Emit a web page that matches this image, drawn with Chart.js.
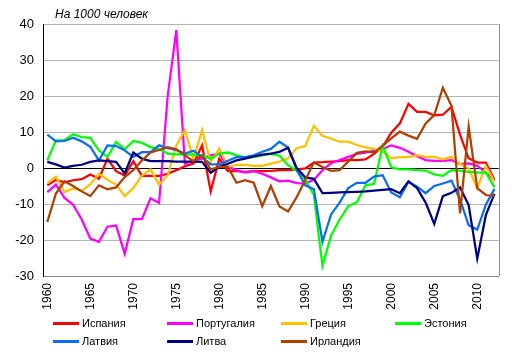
<!DOCTYPE html>
<html>
<head>
<meta charset="utf-8">
<script src="https://cdn.jsdelivr.net/npm/chart.js@4"></script>
<style>
  body { margin: 0; background: #fff; }
  #wrap { position: relative; width: 516px; height: 358px; font-family: "Liberation Sans", Arial, sans-serif; }
  #title { position: absolute; left: 55px; top: 7px; font-size: 12px; font-style: italic; color: #000; }
  .leg { position: absolute; font-size: 11px; color: #000; height: 14px; line-height: 14px; }
  .leg span.ln { position: absolute; left: 0; top: 6px; width: 26px; height: 3px; }
  .leg span.tx { position: absolute; left: 29px; top: 0; white-space: nowrap; }
</style>
</head>
<body>
<div id="wrap">
  <canvas id="mycanvas" width="516" height="358"></canvas>
  <div id="title">На 1000 человек</div>
  <div id="legend"></div>
</div>
<script>
var years = [];
for (var y = 1960; y <= 2012; y++) years.push(y);

var seriesNames = ['Испания', 'Португалия', 'Греция', 'Эстония', 'Латвия', 'Литва', 'Ирландия'];
var seriesColors = ['#FF0000', '#FF00FF', '#FFC000', '#00FF00', '#0A6EF0', '#000080', '#B04000'];

var spain = [-4.8, -3.3, -4.0, -3.4, -3.1, -1.8, -3.0, 2.6, -0.9, -2.1,
  1.9, -2.2, -2.2, -2.2, -1.6, -0.6, 0.5, 1.2, 6.3, -6.5,
  2.6, -0.9, -0.9, -1.1, -0.9, -0.9, -0.8, -0.6, -0.6, -0.4,
  -0.1, 1.5, 1.6, 1.8, 1.9, 2.2, 2.2, 2.4, 3.9, 5.9,
  9.8, 12.4, 17.8, 15.6, 15.6, 14.6, 14.8, 17.0, 9.2, 2.7,
  1.5, 1.5, -3.3];
var portugal = [-6.7, -4.6, -8.3, -10.2, -14.3, -19.6, -20.5, -16.3, -16.0, -23.8,
  -14.2, -14.2, -8.4, -9.7, 20.0, 38.3, 1.2, 2.1, 2.6, 3.5,
  4.0, 0.3, -0.6, -1.3, -0.9, -1.6, -2.6, -3.7, -3.5, -4.2,
  -4.3, -3.3, -0.6, 1.3, 2.2, 3.1, 3.9, 4.3, 4.8, 5.3,
  6.3, 5.6, 4.5, 3.3, 2.2, 2.0, 2.0, 2.2, 1.1, 1.3,
  0.6, -1.3, -3.3];
var greece = [-4.3, -2.4, -6.7, -5.7, -6.4, -4.5, -1.6, -3.3, -4.6, -7.8,
  -5.6, -2.1, -0.4, -4.6, -2.0, 6.3, 10.5, 2.6, 10.5, 1.7,
  5.4, 0.3, 0.9, 0.9, 0.6, 0.6, 1.2, 1.8, 2.7, 5.5,
  6.1, 11.7, 8.9, 8.2, 7.3, 7.3, 6.4, 5.7, 5.3, 4.5,
  2.7, 3.0, 3.0, 3.6, 3.1, 3.1, 2.4, 3.1, 1.1, -0.1,
  -5.6, 0.6, -3.8];
var estonia = [2.1, 7.7, 7.7, 9.4, 8.6, 8.4, 4.9, 3.1, 7.2, 5.2,
  7.5, 7.0, 5.8, 5.2, 4.0, 3.8, 3.8, 3.7, 3.5, 2.6,
  4.0, 4.3, 3.5, 2.9, 3.0, 3.5, 3.9, 3.4, 0.8, -0.8,
  -3.2, -7.5, -27.2, -18.8, -14.3, -10.6, -9.5, -4.8, -4.4, 6.1,
  0.2, -0.4, -0.4, -0.6, -0.7, -1.8, -2.2, -0.6, -0.7, -1.1,
  -1.3, -1.3, -5.4];
var latvia = [9.3, 7.4, 7.5, 8.4, 7.4, 5.9, 2.1, 6.3, 6.1, 4.9,
  3.1, 4.4, 4.4, 6.3, 5.5, 5.0, 4.0, 4.8, 3.0, 1.0,
  1.0, 2.0, 3.0, 3.0, 3.5, 4.5, 5.3, 7.3, 5.7, -0.5,
  -4.8, -5.9, -20.5, -12.9, -9.6, -5.6, -4.1, -4.1, -2.4, -2.0,
  -6.8, -8.1, -3.8, -5.2, -7.0, -5.0, -4.3, -3.5, -8.8, -15.9,
  -17.1, -10.2, -5.8];
var lithuania = [1.7, 1.0, 0.1, 0.6, 0.9, 1.7, 2.1, 1.9, 1.7, -1.5,
  4.3, 2.6, 1.9, 1.9, 1.9, 1.8, 1.8, 1.8, 1.7, -1.3,
  0.3, 1.2, 2.1, 2.6, 3.2, 3.7, 4.0, 4.5, 5.6, 0.0,
  -2.6, -3.0, -7.0, -6.9, -6.8, -6.7, -6.6, -6.5, -6.3, -6.1,
  -5.9, -7.0, -3.7, -5.6, -9.6, -15.5, -7.8, -6.9, -5.4, -10.3,
  -25.2, -13.1, -7.2];
var ireland = [-15.0, -7.1, -3.7, -5.0, -6.5, -7.8, -4.8, -5.9, -5.4, -2.5,
  -0.6, 2.1, 4.3, 5.0, 5.8, 5.2, 3.5, 1.9, 3.5, -0.4,
  0.3, 0.3, -4.1, -3.4, -4.1, -10.6, -5.0, -10.7, -12.1, -8.1,
  -3.3, 1.5, 0.3, -0.8, -0.6, 1.8, 4.2, 4.6, 4.3, 6.2,
  8.2, 10.1, 9.0, 8.1, 12.4, 14.7, 22.3, 17.3, -12.6, 11.5,
  -5.6, -7.5, -7.8];

var seriesData = [spain, portugal, greece, estonia, latvia, lithuania, ireland];

var datasets = [];
for (var i = 0; i < seriesNames.length; i++) {
  datasets.push({
    label: seriesNames[i],
    data: seriesData[i],
    borderColor: seriesColors[i],
    backgroundColor: seriesColors[i],
    borderWidth: 2.25,
    pointRadius: 0,
    tension: 0,
    fill: false,
    order: seriesNames.length - i
  });
}

// grey frame on the right side of the plot
var frame = {
  id: 'frame',
  beforeDatasetsDraw: function(chart) {
    var a = chart.chartArea, c = chart.ctx;
    c.save();
    c.strokeStyle = '#8c8c8c';
    c.lineWidth = 1;
    c.beginPath();
    c.moveTo(Math.round(a.right) + 0.5, a.top);
    c.lineTo(Math.round(a.right) + 0.5, a.bottom);
    c.stroke();
    c.restore();
  }
};

var ctx = document.getElementById('mycanvas');
var lineGraph = new Chart(ctx, {
  type: 'line',
  data: { labels: years, datasets: datasets },
  plugins: [frame],
  options: {
    responsive: false,
    animation: false,
    layout: { padding: { left: 0, right: 16, top: 24, bottom: 0 } },
    plugins: { legend: { display: false }, title: { display: false }, tooltip: { enabled: false } },
    scales: {
      x: {
        offset: true,
        grid: { display: false, drawTicks: false },
        border: { display: true, color: '#8c8c8c' },
        ticks: {
          autoSkip: false, minRotation: 90, maxRotation: 90, padding: 7,
          color: '#000', font: { family: 'Liberation Sans', size: 12 },
          callback: function(v, idx) { var yr = years[idx]; return yr % 5 === 0 ? String(yr) : ''; }
        },
        afterFit: function(s) { s.height = 82; }
      },
      y: {
        min: -30, max: 40,
        grid: {
          drawTicks: false,
          color: function(c) { return c.tick && c.tick.value === 0 ? '#000' : '#b4b4b4'; }
        },
        border: { display: true, color: '#000' },
        ticks: { stepSize: 10, padding: 9, color: '#000', font: { family: 'Liberation Sans', size: 13 } },
        afterFit: function(s) { s.width = 43; }
      }
    }
  }
});

// legend, two rows of four columns
var legX = [53, 167, 281, 395];
var legY = [316, 334];
var html = '';
for (var j = 0; j < seriesNames.length; j++) {
  var lx = legX[j % 4], ly = legY[Math.floor(j / 4)];
  html += '<div class="leg" style="left:' + lx + 'px;top:' + ly + 'px">' +
    '<span class="ln" style="background:' + seriesColors[j] + '"></span>' +
    '<span class="tx">' + seriesNames[j] + '</span></div>';
}
document.getElementById('legend').innerHTML = html;
</script>
</body>
</html>
